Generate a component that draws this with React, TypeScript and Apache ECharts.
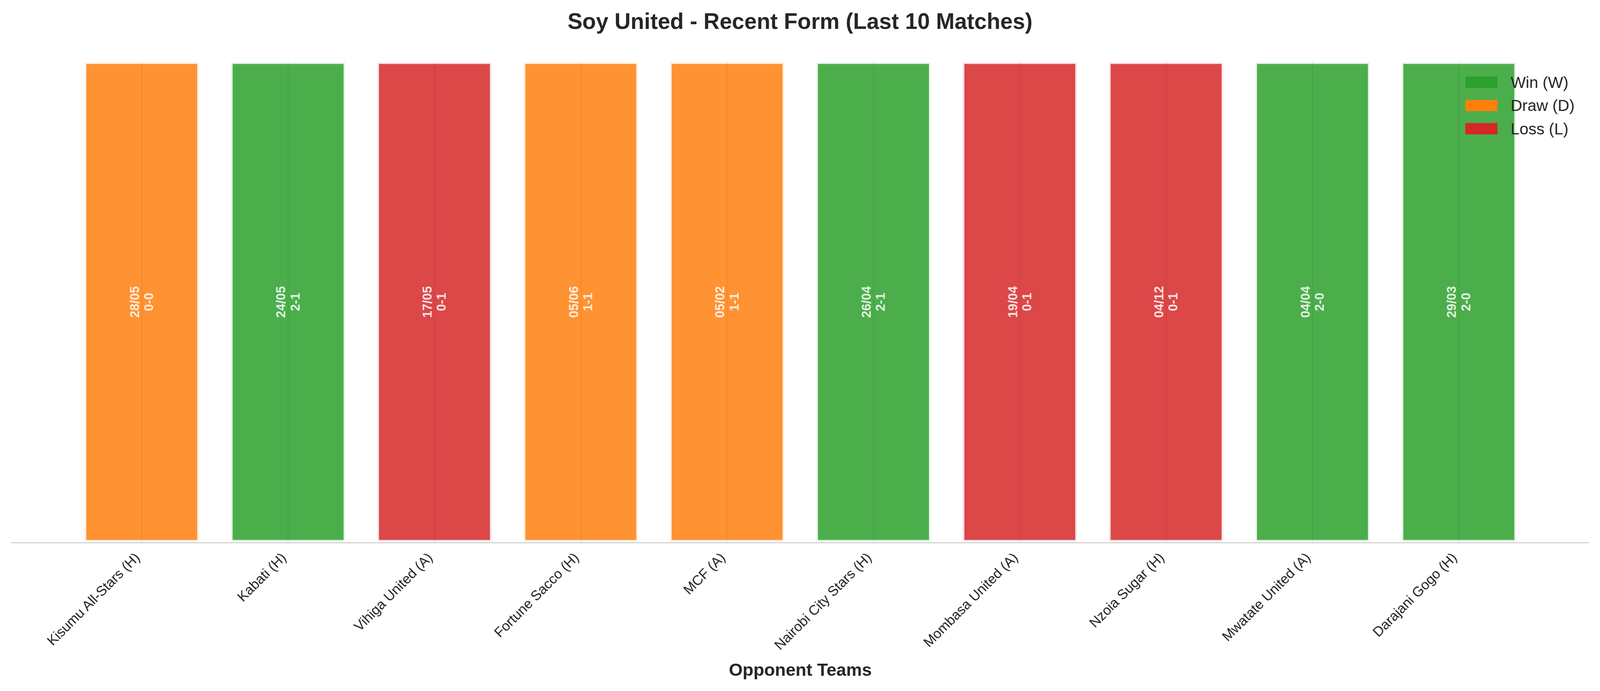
import { useEffect, useRef } from 'react'
import * as echarts from 'echarts'

const TEAMS = [
  'Kisumu All-Stars (H)', 'Kabati (H)', 'Vihiga United (A)', 'Fortune Sacco (H)', 'MCF (A)',
  'Nairobi City Stars (H)', 'Mombasa United (A)', 'Nzoia Sugar (H)', 'Mwatate United (A)', 'Darajani Gogo (H)',
]
const DATES   = ['28/05', '24/05', '17/05', '05/06', '05/02', '26/04', '19/04', '04/12', '04/04', '29/03']
const SCORES  = ['0-0', '2-1', '0-1', '1-1', '1-1', '2-1', '0-1', '0-1', '2-0', '2-0']
const RESULTS = ['D', 'W', 'L', 'D', 'D', 'W', 'L', 'L', 'W', 'W']

// every match is drawn as a full-height bar
const BAR_VALUE = 1

const OUTCOME_CODES = ['W', 'D', 'L']
const OUTCOME_NAMES = ['Win (W)', 'Draw (D)', 'Loss (L)']
const OUTCOME_COLORS = ['#2ca02c', '#ff7f0e', '#d62728']

const FONT = "'Liberation Sans', Arial, Helvetica, sans-serif"
const INK = '#262626'

// design size the layout numbers below refer to (viewport may be narrower)
const BASE_W = 4170
const BASE_H = 1769

export default function App() {
  const ref = useRef<HTMLDivElement>(null)

  useEffect(() => {
    if (!ref.current) return
    const el = ref.current
    const W = el.clientWidth
    const H = el.clientHeight
    const sx = (v: number) => (v * W) / BASE_W
    const sy = (v: number) => (v * H) / BASE_H
    const fs = (v: number) => (v * W) / BASE_W

    const chart = echarts.init(el, undefined, { renderer: 'svg' })

    const series: any[] = OUTCOME_CODES.map((code, k) => ({
      type: 'bar',
      name: OUTCOME_NAMES[k],
      stack: 'form',
      barWidth: '80%',
      data: RESULTS.map(r => (r === code ? BAR_VALUE : '-')),
      itemStyle: {
        color: OUTCOME_COLORS[k],
        opacity: 0.85,
        borderColor: '#ffffff',
        borderWidth: fs(8),
      },
      label: {
        show: true,
        position: 'inside',
        rotate: 90,
        color: '#ffffff',
        fontFamily: FONT,
        fontWeight: 'bold',
        fontSize: fs(33),
        lineHeight: fs(37),
        align: 'center',
        formatter: (p: any) => `${DATES[p.dataIndex]}\n${SCORES[p.dataIndex]}`,
      },
      emphasis: { disabled: true },
      silent: true,
    }))

    // faint vertical grid line through each bar centre (shows through the translucent bars)
    series[0].markLine = {
      silent: true,
      symbol: 'none',
      label: { show: false },
      lineStyle: { color: 'rgba(0,0,0,0.05)', width: fs(3), type: 'solid' },
      data: TEAMS.map(t => ({ xAxis: t })),
    }

    chart.setOption({
      animation: false,
      backgroundColor: '#ffffff',
      title: {
        text: 'Soy United - Recent Form (Last 10 Matches)',
        left: 'center',
        top: sy(25),
        padding: 0,
        textStyle: { fontFamily: FONT, fontSize: fs(58), fontWeight: 'bold', color: INK },
      },
      legend: {
        orient: 'vertical',
        left: sx(3819),
        top: sy(189.5),
        padding: 0,
        itemWidth: sx(84),
        itemHeight: sy(29),
        itemGap: sy(17.5),
        icon: 'rect',
        selectedMode: false,
        itemStyle: { opacity: 1, borderWidth: 0 },
        textStyle: { fontFamily: FONT, fontSize: fs(41.7), lineHeight: sy(42), color: INK, padding: [0, 0, 0, sx(29)] },
        data: OUTCOME_NAMES,
      },
      grid: { left: sx(178.8), right: sx(177.3), top: sy(156), bottom: sy(379) },
      xAxis: {
        type: 'category',
        data: TEAMS,
        axisLine: { show: false },
        axisTick: { show: false },
        splitLine: { show: false },
        axisLabel: {
          rotate: 45,
          interval: 0,
          margin: sy(19),
          padding: [0, sx(17), 0, 0],
          fontFamily: FONT,
          fontSize: fs(36),
          color: INK,
        },
        name: 'Opponent Teams',
        nameLocation: 'middle',
        nameGap: sy(302),
        nameTextStyle: { fontFamily: FONT, fontSize: fs(46), fontWeight: 'bold', color: INK },
      },
      yAxis: { type: 'value', min: 0, max: 1, show: false },
      graphic: [{
        type: 'line',
        z: 100,
        silent: true,
        shape: { x1: sx(29), y1: sy(1389.5), x2: sx(4141), y2: sy(1389.5) },
        style: { stroke: '#cccccc', lineWidth: fs(2.5) },
      }],
      series,
    })

    return () => chart.dispose()
  }, [])

  return <div ref={ref} style={{ position: 'fixed', left: 0, top: 0, width: '100vw', height: '100vh' }} />
}
